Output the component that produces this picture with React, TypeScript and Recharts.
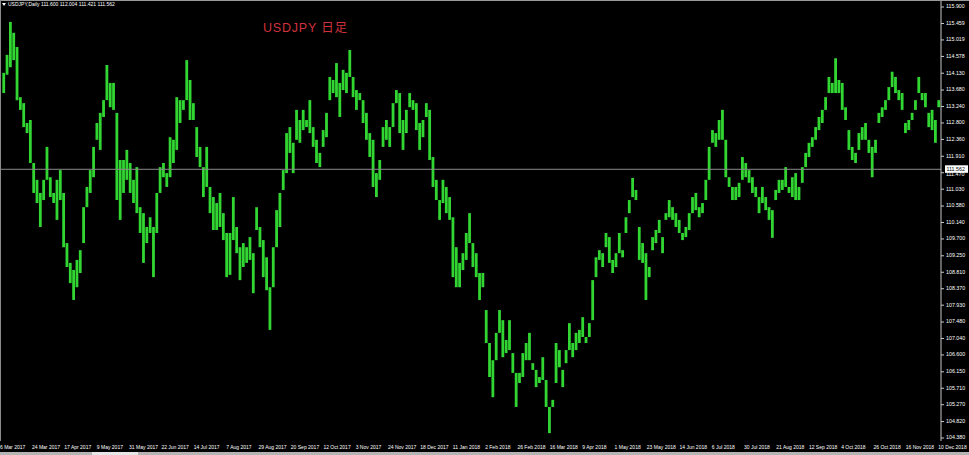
import React from 'react';
import { ComposedChart, Bar, XAxis, YAxis, ReferenceLine } from 'recharts';

const highs = [
  114.14, 114.62, 115.50, 115.21, 114.83, 113.49, 113.33, 112.80, 112.88, 111.73,
  111.28, 110.93, 111.28, 112.16, 111.35, 110.93, 111.28, 111.54, 110.93, 109.59,
  109.06, 108.87, 109.14, 109.40, 110.55, 111.09, 111.54, 112.16, 112.80, 113.07,
  113.41, 114.35, 113.87, 113.87, 113.07, 111.81, 111.81, 112.08, 111.73, 111.28,
  111.62, 110.55, 110.39, 110.02, 110.28, 110.02, 110.93, 111.62, 111.73, 111.46,
  112.42, 112.35, 113.49, 113.41, 113.41, 114.48, 113.95, 113.33, 112.69, 112.16,
  111.62, 112.16, 111.09, 110.82, 110.66, 110.93, 110.39, 109.86, 109.86, 110.82,
  110.02, 109.48, 109.59, 109.48, 109.75, 109.32, 110.55, 110.02, 109.67, 109.21,
  108.41, 109.48, 110.47, 110.93, 111.54, 112.53, 112.69, 112.27, 113.15, 112.88,
  113.15, 112.88, 113.41, 112.69, 112.35, 112.00, 112.61, 113.07, 114.03, 113.95,
  114.40, 113.87, 114.22, 114.14, 114.75, 114.03, 113.68, 113.60, 113.41, 113.07,
  112.53, 112.35, 111.46, 111.81, 112.69, 112.88, 112.69, 113.33, 113.68, 113.60,
  112.88, 113.15, 113.60, 113.41, 113.33, 112.80, 112.88, 113.33, 113.15, 111.89,
  111.28, 110.74, 111.28, 111.09, 110.82, 110.28, 109.48, 109.06, 109.32, 109.86,
  110.39, 109.59, 109.32, 108.79, 108.79, 107.80, 106.92, 106.46, 107.19, 107.80,
  107.53, 107.00, 107.53, 106.65, 106.12, 106.12, 106.65, 106.92, 107.19, 106.38,
  106.20, 106.01, 106.54, 105.93, 105.21, 105.40, 106.92, 106.73, 106.20, 106.73,
  107.45, 106.92, 107.19, 107.27, 107.61, 107.08, 107.45, 108.60, 109.21, 109.40,
  109.32, 109.86, 109.75, 109.14, 109.32, 109.86, 109.40, 110.28, 110.74, 111.33,
  111.01, 110.02, 109.59, 109.32, 108.95, 109.75, 109.94, 110.21, 109.75, 110.39,
  110.74, 110.55, 110.39, 110.21, 109.86, 110.02, 110.39, 110.82, 110.93, 110.55,
  110.66, 111.28, 112.16, 112.61, 112.53, 112.88, 113.15, 112.35, 111.35, 111.09,
  111.09, 111.20, 111.89, 111.73, 111.54, 111.35, 111.09, 110.82, 111.09, 110.82,
  110.55, 110.47, 111.01, 111.28, 111.28, 111.62, 111.09, 111.35, 111.46, 111.09,
  111.62, 112.00, 112.27, 112.42, 112.69, 112.96, 113.15, 113.49, 114.03, 113.87,
  114.53, 113.95, 113.87, 113.22, 112.61, 112.16, 112.00, 112.53, 112.69, 112.80,
  112.35, 112.16, 112.35, 113.07, 113.22, 113.41, 113.76, 114.17, 114.03, 113.68,
  113.60, 112.80, 112.88, 113.07, 113.41, 114.03, 113.60, 113.60, 113.07, 113.15,
  112.88, 113.41,
];

const lows = [
  113.60, 114.09, 114.29, 114.48, 113.41, 113.15, 112.69, 112.53, 111.73, 110.93,
  110.66, 110.02, 110.74, 111.28, 110.82, 110.66, 110.21, 110.74, 109.48, 108.95,
  108.52, 108.07, 108.41, 108.79, 109.59, 110.55, 110.93, 111.35, 112.35, 112.08,
  112.96, 113.41, 113.22, 113.15, 110.74, 110.21, 110.93, 111.28, 110.93, 110.66,
  110.39, 109.86, 109.06, 109.59, 109.86, 108.68, 109.86, 110.93, 111.35, 111.09,
  111.35, 111.73, 112.08, 112.80, 113.15, 113.41, 112.88, 112.88, 111.89, 111.62,
  110.82, 111.09, 110.39, 109.94, 109.94, 110.02, 109.67, 108.68, 108.74, 109.67,
  109.32, 108.60, 108.95, 109.06, 109.14, 108.25, 109.94, 109.48, 108.68, 108.33,
  107.27, 108.41, 109.48, 110.02, 111.01, 111.46, 112.00, 111.46, 112.35, 112.27,
  112.61, 112.69, 112.53, 112.16, 111.73, 111.62, 112.16, 112.42, 113.41, 113.60,
  113.49, 112.96, 113.68, 113.60, 114.03, 113.49, 113.15, 113.41, 112.80, 112.35,
  111.89, 111.09, 110.82, 111.28, 112.16, 112.35, 112.16, 112.69, 113.33, 112.53,
  112.08, 112.53, 113.22, 113.15, 112.61, 112.08, 112.42, 112.96, 111.81, 111.09,
  110.74, 110.21, 110.66, 110.39, 110.21, 108.68, 108.41, 108.41, 108.87, 109.14,
  109.59, 108.95, 108.68, 108.07, 108.41, 106.92, 106.01, 105.47, 106.46, 107.19,
  106.54, 106.65, 106.73, 106.12, 105.21, 105.85, 106.01, 106.46, 106.46, 106.20,
  105.74, 105.85, 105.93, 105.21, 104.51, 105.21, 105.85, 106.27, 105.74, 106.38,
  106.73, 106.54, 106.73, 106.92, 107.08, 106.92, 107.08, 107.53, 108.68, 109.14,
  108.95, 109.48, 109.06, 108.79, 108.95, 109.32, 109.21, 109.86, 110.39, 110.82,
  110.74, 109.14, 109.06, 108.07, 108.68, 109.40, 109.59, 109.86, 109.32, 110.21,
  110.28, 110.21, 110.02, 109.86, 109.67, 109.75, 109.94, 110.39, 110.47, 110.28,
  110.39, 110.74, 111.28, 112.27, 112.16, 112.35, 112.35, 111.35, 111.09, 110.74,
  110.74, 110.82, 111.28, 111.35, 111.20, 110.93, 110.82, 110.39, 110.66, 110.47,
  110.21, 109.73, 110.74, 110.93, 111.01, 111.09, 110.93, 110.82, 110.74, 110.74,
  111.20, 111.62, 111.89, 112.16, 112.35, 112.61, 112.80, 113.15, 113.60, 113.60,
  113.60, 113.60, 113.15, 112.88, 112.08, 111.81, 111.73, 112.08, 112.35, 112.35,
  112.00, 111.35, 112.00, 112.80, 112.96, 113.15, 113.41, 113.76, 113.60, 113.41,
  113.15, 112.53, 112.61, 112.88, 113.15, 113.60, 113.41, 113.22, 112.69, 112.61,
  112.27, 113.22,
];

const dateLabels = [
  '6 Mar 2017', '24 Mar 2017', '17 Apr 2017', '9 May 2017', '31 May 2017', '22 Jun 2017',
  '14 Jul 2017', '7 Aug 2017', '29 Aug 2017', '20 Sep 2017', '12 Oct 2017', '3 Nov 2017',
  '24 Nov 2017', '18 Dec 2017', '11 Jan 2018', '2 Feb 2018', '26 Feb 2018', '16 Mar 2018',
  '9 Apr 2018', '1 May 2018', '23 May 2018', '14 Jun 2018', '6 Jul 2018', '30 Jul 2018',
  '21 Aug 2018', '12 Sep 2018', '4 Oct 2018', '26 Oct 2018', '16 Nov 2018', '10 Dec 2018',
];

const dateTickIndex = [
  -1.2, 8.4, 18.1, 27.9, 37.6, 47.3, 57.0, 66.8, 76.5, 86.2, 96.0, 105.7, 115.4, 125.1, 134.9,
  144.6, 154.3, 164.0, 173.8, 183.5, 193.2, 203.0, 212.7, 222.4, 232.1, 241.9, 251.6, 261.3, 271.0, 280.8,
];

const priceTicks = [
  115.9, 115.459, 115.019, 114.578, 114.13, 113.68, 113.24, 112.8, 112.36, 111.91, 111.47,
  111.03, 110.58, 110.14, 109.7, 109.25, 108.81, 108.37, 107.93, 107.48, 107.04, 106.6,
  106.15, 105.71, 105.27, 104.82, 104.38,
];

const symbolName = 'USDJPY,Daily';
const quote = ['111.600', '112.004', '111.421', '111.562'];
const currentPrice = 111.562;
const title = 'USDJPY 日足';

const data = highs.map((h, i) => ({ i, high: h, low: lows[i] }));

const FONT = 'Liberation Sans, Arial, sans-serif';

const XTick = (props: any) => {
  const { x, payload } = props;
  const k = dateTickIndex.indexOf(payload.value);
  return (
    <text x={x} y={448} fill="#ffffff" fontSize={5} fontFamily={FONT} dominantBaseline="middle">
      {dateLabels[k]}
    </text>
  );
};

const YTick = (props: any) => {
  const { x, y, payload } = props;
  const nearTag = Math.abs(payload.value - currentPrice) < 0.2;
  return (
    <text x={x} y={nearTag ? y + 1.5 : y} fill="#ffffff" fontSize={5.3} fontFamily={FONT} dominantBaseline="middle">
      {Number(payload.value).toFixed(3)}
    </text>
  );
};

const PriceTag = (props: any) => {
  const { viewBox } = props;
  const x = viewBox.x + viewBox.width;
  const y = viewBox.y;
  return (
    <g>
      <rect x={x + 4} y={y - 4} width={23} height={7.5} fill="#ffffff" />
      <text x={x + 5.5} y={y} fontSize={5.3} fill="#000000" fontFamily={FONT} dominantBaseline="middle">
        {currentPrice.toFixed(3)}
      </text>
    </g>
  );
};

export default function App() {
  return (
    <div style={{ position: 'absolute', left: 0, top: 0, width: 969, height: 455, background: '#000', overflow: 'hidden' }}>
      <ComposedChart width={969} height={455} data={data} margin={{ top: 1, right: 0, bottom: 0, left: 0 }}>
        <XAxis
          dataKey="i"
          type="number"
          domain={[-1.2, 281.6]}
          ticks={dateTickIndex}
          tick={<XTick />}
          tickLine={false}
          axisLine={false}
          height={14}
          interval={0}
          allowDataOverflow
        />
        <YAxis
          orientation="right"
          type="number"
          width={28}
          domain={[104.3, 116.06]}
          ticks={priceTicks}
          tick={<YTick />}
          tickSize={3}
          tickMargin={2}
          axisLine={{ stroke: '#c8c8c8' }}
          tickLine={{ stroke: '#c8c8c8' }}
          interval={0}
          allowDataOverflow
        />
        <ReferenceLine y={currentPrice} stroke="#8c8c8c" strokeWidth={1} label={<PriceTag />} />
        <Bar
          dataKey={(d: any) => [d.low, d.high]}
          fill="#32d632"
          barSize={2.8}
          isAnimationActive={false}
        />
      </ComposedChart>
      <svg width={969} height={455} style={{ position: 'absolute', left: 0, top: 0, pointerEvents: 'none' }}>
        <line x1={0} y1={0.5} x2={969} y2={0.5} stroke="#9a9a9a" strokeWidth={1} />
        <line x1={0.5} y1={0} x2={0.5} y2={441} stroke="#8a8a8a" strokeWidth={1} />
        <polygon points="2,3 6,3 4,6" fill="#ffffff" />
        <text x={8} y={5} fill="#ffffff" fontSize={5} fontFamily={FONT} dominantBaseline="middle">
          {symbolName + '  ' + quote.join(' ')}
        </text>
        <text x={263} y={32} fill="#d0323c" fontSize={12.5} letterSpacing={0.8} fontFamily="Liberation Sans, 'Noto Sans CJK JP', sans-serif">
          {title}
        </text>
        <rect x={0} y={452} width={969} height={3} fill="#b4b4b4" />
        <rect x={92} y={452} width={46} height={3} fill="#e6e6e6" />
      </svg>
    </div>
  );
}
